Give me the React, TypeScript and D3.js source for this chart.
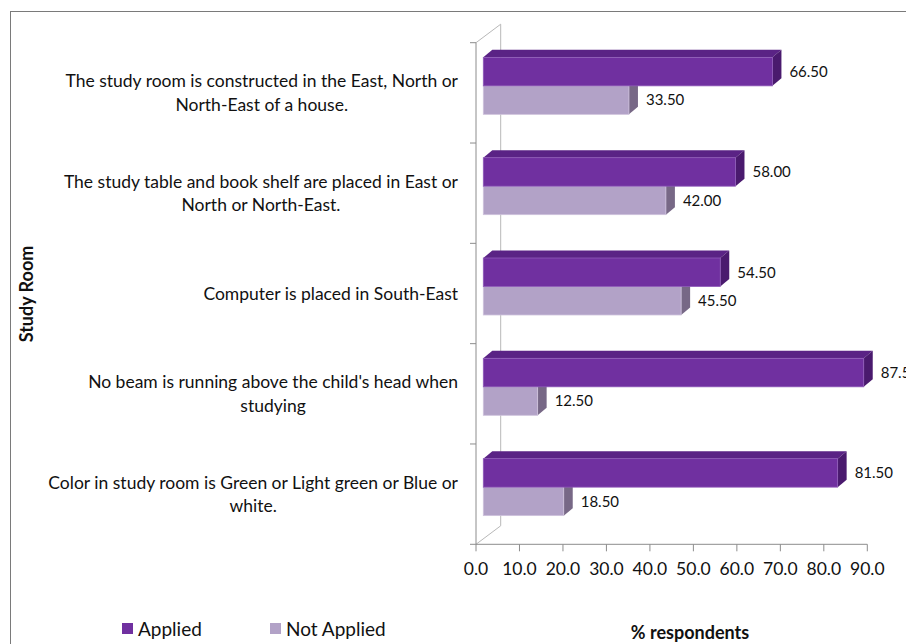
import React, { useEffect, useRef } from "react";
import * as d3 from "d3";

// ---- data ----
const categories: string[] = [
  "The study room is constructed in the East, North or\nNorth-East of a house.",
  "The study table and book shelf are placed in East or\nNorth or North-East.",
  "Computer is placed in South-East",
  "No beam is running above the child's head when\nstudying",
  "Color in study room is Green or Light green or Blue or\nwhite.",
];
const seriesNames: string[] = ["Applied", "Not Applied"];
const applied: number[] = [66.5, 58.0, 54.5, 87.5, 81.5];
const notApplied: number[] = [33.5, 42.0, 45.5, 12.5, 18.5];
const xTicks: number[] = [0, 10, 20, 30, 40, 50, 60, 70, 80, 90];
const yAxisTitle = "Study Room";
const xAxisTitle = "% respondents";

const W = 906;
const H = 644;
const FONT = "Lato, 'Noto Sans', sans-serif";

const colors = {
  Applied: { front: "#7030A0", top: "#5A2385", side: "#4A1A6E", stroke: "#8E5AB8" },
  "Not Applied": { front: "#B2A2C7", top: "#9888AE", side: "#776886", stroke: "#CEC2DC" },
} as Record<string, { front: string; top: string; side: string; stroke: string }>;

export default function App() {
  const ref = useRef<SVGSVGElement>(null);

  useEffect(() => {
    const svg = d3.select(ref.current);
    svg.selectAll("*").remove();

    // scales (front plane)
    const x = d3.scaleLinear().domain([0, 90]).range([476, 867.3]);
    const y = d3
      .scaleBand<string>()
      .domain(categories)
      .range([42.7, 544.3])
      .paddingInner(0.432)
      .paddingOuter(0.216);
    const ySeries = d3.scaleBand<string>().domain(seriesNames).range([0, y.bandwidth()]);

    const wallD = { dx: 24.7, dy: -18.5 };
    const barOff = { dx: 7.3, dy: -7 };
    const barD = { dx: 9, dy: -7.5 };
    const yTop = 42.7;
    const yBot = 544.3;

    // outer border
    svg
      .append("rect")
      .attr("x", 10.5)
      .attr("y", 11.5)
      .attr("width", 1000)
      .attr("height", 1000)
      .attr("fill", "none")
      .attr("stroke", "#7a7a7a")
      .attr("stroke-width", 1);

    // walls
    const wall = svg.append("g").attr("fill", "none");
    const x0 = x(0);
    wall
      .append("path")
      .attr(
        "d",
        `M${x0},${yTop} L${x0 + wallD.dx},${yTop + wallD.dy} L${x0 + wallD.dx},${yBot + wallD.dy} L${x0},${yBot}`
      )
      .attr("stroke", "#b8b8b8")
      .attr("stroke-width", 1);
    // front vertical axis
    wall
      .append("line")
      .attr("x1", x0)
      .attr("x2", x0)
      .attr("y1", yTop)
      .attr("y2", yBot)
      .attr("stroke", "#8c8c8c");
    // category ticks
    const bounds = d3.range(categories.length + 1).map((i) => yTop + ((yBot - yTop) * i) / categories.length);
    wall
      .selectAll("line.ct")
      .data(bounds)
      .join("line")
      .attr("x1", x0 - 6)
      .attr("x2", x0)
      .attr("y1", (d) => d)
      .attr("y2", (d) => d)
      .attr("stroke", "#8c8c8c");

    // x axis
    wall
      .append("line")
      .attr("x1", x0)
      .attr("x2", x(90))
      .attr("y1", yBot)
      .attr("y2", yBot)
      .attr("stroke", "#8c8c8c");
    wall
      .selectAll("line.xt")
      .data(xTicks)
      .join("line")
      .attr("x1", (d) => x(d))
      .attr("x2", (d) => x(d))
      .attr("y1", yBot)
      .attr("y2", yBot + 7)
      .attr("stroke", "#8c8c8c");
    svg
      .append("g")
      .selectAll("text")
      .data(xTicks)
      .join("text")
      .attr("x", (d) => x(d))
      .attr("y", 575)
      .attr("text-anchor", "middle")
      .attr("font-family", FONT)
      .attr("font-size", 17.5)
      .attr("fill", "#111")
      .text((d) => d.toFixed(1));

    // bars
    const barsG = svg.append("g");
    categories.forEach((cat, i) => {
      const vals: Record<string, number> = { Applied: applied[i], "Not Applied": notApplied[i] };
      // draw lower series first so upper one covers its top face
      [...seriesNames].reverse().forEach((s) => {
        const c = colors[s];
        const xs = x(0) + barOff.dx;
        const xe = x(vals[s]) + barOff.dx;
        const y0 = (y(cat) as number) + (ySeries(s) as number) + barOff.dy;
        const y1 = y0 + ySeries.bandwidth();
        const g = barsG.append("g");
        g.append("path")
          .attr(
            "d",
            `M${xs},${y0} L${xs + barD.dx},${y0 + barD.dy} L${xe + barD.dx},${y0 + barD.dy} L${xe},${y0} Z`
          )
          .attr("fill", c.top);
        g.append("path")
          .attr(
            "d",
            `M${xe},${y0} L${xe + barD.dx},${y0 + barD.dy} L${xe + barD.dx},${y1 + barD.dy} L${xe},${y1} Z`
          )
          .attr("fill", c.side);
        g.append("rect")
          .attr("x", xs)
          .attr("y", y0)
          .attr("width", xe - xs)
          .attr("height", y1 - y0)
          .attr("fill", c.front)
          .attr("stroke", c.stroke)
          .attr("stroke-width", 0.8);
        g.append("text")
          .attr("x", xe + barD.dx + 8)
          .attr("y", (y0 + y1) / 2)
          .attr("dy", "0.35em")
          .attr("font-family", FONT)
          .attr("font-size", 15)
          .attr("fill", "#111")
          .text(vals[s].toFixed(2));
      });
    });

    // category labels: block right-aligned, lines centered within block
    const labelRight = 458;
    const lineH = 23.5;
    const labG = svg.append("g");
    categories.forEach((cat) => {
      const lines = cat.split("\n");
      const cy = (y(cat) as number) + y.bandwidth() / 2;
      const tg = labG.append("g");
      const texts = lines.map((ln, k) =>
        tg
          .append("text")
          .attr("y", cy + (k - (lines.length - 1) / 2) * lineH)
          .attr("dy", "0.35em")
          .attr("text-anchor", "middle")
          .attr("font-family", FONT)
          .attr("font-size", 17.5)
          .attr("fill", "#111")
          .text(ln)
      );
      const maxW = d3.max(texts, (t) => (t.node() as SVGTextElement).getComputedTextLength()) || 0;
      texts.forEach((t) => t.attr("x", labelRight - maxW / 2));
    });

    // axis titles
    svg
      .append("text")
      .attr("transform", `translate(33,294) rotate(-90)`)
      .attr("text-anchor", "middle")
      .attr("font-family", FONT)
      .attr("font-weight", "bold")
      .attr("font-size", 18)
      .attr("fill", "#111")
      .text(yAxisTitle);
    svg
      .append("text")
      .attr("x", 690)
      .attr("y", 639)
      .attr("text-anchor", "middle")
      .attr("font-family", FONT)
      .attr("font-weight", "bold")
      .attr("font-size", 18)
      .attr("fill", "#111")
      .text(xAxisTitle);

    // legend
    const legX = [122, 270];
    const leg = svg.append("g");
    seriesNames.forEach((s, i) => {
      leg
        .append("rect")
        .attr("x", legX[i])
        .attr("y", 623)
        .attr("width", 11)
        .attr("height", 11)
        .attr("fill", colors[s].front);
      leg
        .append("text")
        .attr("x", legX[i] + 16)
        .attr("y", 629)
        .attr("dy", "0.35em")
        .attr("font-family", FONT)
        .attr("font-size", 19)
        .attr("fill", "#111")
        .text(s);
    });
  }, []);

  return (
    <svg
      ref={ref}
      width={W}
      height={H}
      style={{ position: "absolute", left: 0, top: 0, background: "#fff" }}
    />
  );
}
